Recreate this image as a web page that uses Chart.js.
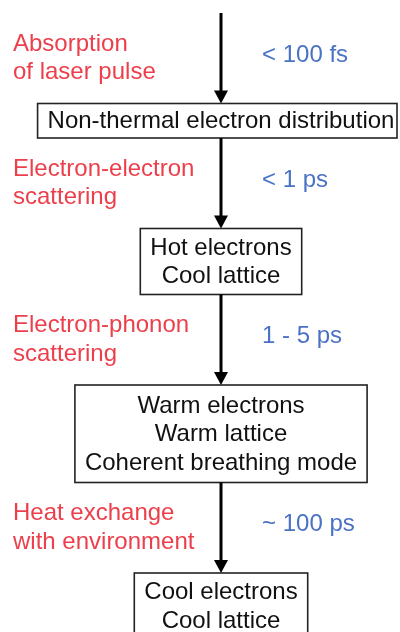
<!DOCTYPE html>
<html><head><meta charset="utf-8">
<script src="https://cdn.jsdelivr.net/npm/chart.js@4"></script>
<style>html,body{margin:0;padding:0;background:#fff;overflow:hidden}#wrap{width:400px;height:632px}</style>
</head><body><div id="wrap"><canvas id="c" width="400" height="632"></canvas></div>
<script>
// ---- data ----
const stages = [
  ["Non-thermal electron distribution"],
  ["Hot electrons", "Cool lattice"],
  ["Warm electrons", "Warm lattice", "Coherent breathing mode"],
  ["Cool electrons", "Cool lattice"]
];
const processes = [
  ["Absorption", "of laser pulse"],
  ["Electron-electron", "scattering"],
  ["Electron-phonon", "scattering"],
  ["Heat exchange", "with environment"]
];
const timescales = ["< 100 fs", "< 1 ps", "1 - 5 ps", "~ 100 ps"];

// ---- layout / style (not data) ----
const L = {
  width: 400, height: 632,
  cx: 221, top: 13, arrow: 90.5, head: 13, headW: 7,
  lineH: 28.5, boxLine: 31.5, boxPad: 3, padX: 10, edge: 3,
  redX: 13, blueX: 262,
  font: '24px "Liberation Sans", Arial, sans-serif',
  red: '#ec3f4b', blue: '#4a72c4', ink: '#111', border: '#222'
};

const flowPlugin = {
  id: 'flow',
  afterDatasetsDraw(chart) {
    const xs = chart.scales.x, ys = chart.scales.y, ctx = chart.ctx;
    const px = v => xs.getPixelForValue(v), py = v => ys.getPixelForValue(v);
    ctx.save();
    ctx.font = L.font;
    ctx.textBaseline = 'middle';
    let y = L.top;
    stages.forEach((lines, i) => {
      const a0 = y, a1 = y + L.arrow;
      // arrow shaft
      ctx.strokeStyle = '#000'; ctx.lineWidth = 3;
      ctx.beginPath(); ctx.moveTo(px(L.cx), py(a0)); ctx.lineTo(px(L.cx), py(a1 - L.head + 1)); ctx.stroke();
      // arrow head
      ctx.fillStyle = '#000';
      ctx.beginPath();
      ctx.moveTo(px(L.cx - L.headW), py(a1 - L.head));
      ctx.lineTo(px(L.cx + L.headW), py(a1 - L.head));
      ctx.lineTo(px(L.cx), py(a1));
      ctx.closePath(); ctx.fill();
      // process labels (red)
      const mid = (a0 + a1) / 2;
      const pl = processes[i];
      ctx.fillStyle = L.red; ctx.textAlign = 'left';
      pl.forEach((t, k) => ctx.fillText(t, px(L.redX), py(mid + (k - (pl.length - 1) / 2) * L.lineH)));
      // timescale (blue)
      ctx.fillStyle = L.blue;
      ctx.fillText(timescales[i], px(L.blueX), py(mid - 3));
      // box
      const bh = lines.length * L.boxLine + L.boxPad;
      const tw = Math.max(...lines.map(t => ctx.measureText(t).width));
      const left = L.cx - tw / 2 - L.padX;
      const right = Math.min(L.cx + tw / 2 + L.padX, L.width - L.edge);
      ctx.strokeStyle = L.border; ctx.lineWidth = 1.6;
      ctx.strokeRect(px(left), py(a1), px(right) - px(left), py(a1 + bh) - py(a1));
      // box text
      const bc = a1 + bh / 2;
      ctx.fillStyle = L.ink; ctx.textAlign = 'center';
      lines.forEach((t, k) => ctx.fillText(t, px(L.cx), py(bc + (k - (lines.length - 1) / 2) * L.lineH + 1)));
      y = a1 + bh;
    });
    ctx.restore();
  }
};

new Chart(document.getElementById('c'), {
  type: 'scatter',
  data: { datasets: [{ data: [], pointRadius: 0 }] },
  options: {
    responsive: false, animation: false, devicePixelRatio: 1,
    layout: { padding: 0 },
    plugins: { legend: { display: false }, tooltip: { enabled: false } },
    scales: {
      x: { type: 'linear', min: 0, max: L.width, display: false },
      y: { type: 'linear', min: 0, max: L.height, reverse: true, display: false }
    }
  },
  plugins: [flowPlugin]
});
</script></body></html>
